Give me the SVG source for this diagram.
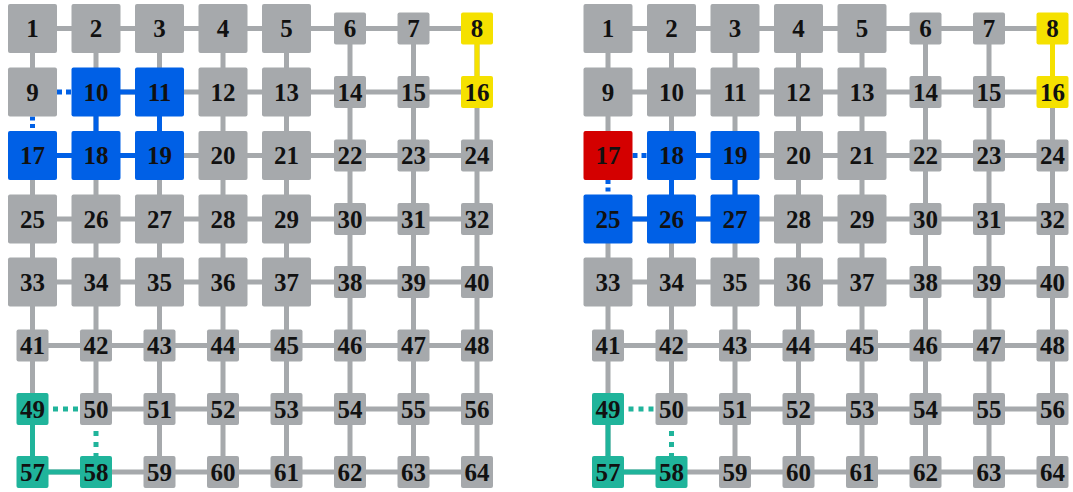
<svg xmlns="http://www.w3.org/2000/svg" width="1073" height="492" viewBox="0 0 1073 492">
<style>
.e{fill:none;stroke-width:5}
.eg{stroke:#a6a9ac}
.eb{stroke:#0060e6}
.ey{stroke:#f5e100}
.et{stroke:#20b49b}
.d1{stroke-dasharray:5 4}
.d2{stroke-dasharray:5 5}
text{font-family:"Liberation Serif","DejaVu Serif",serif;font-weight:bold;font-size:25px;text-anchor:middle;fill:#111}
.g{fill:#a6a9ac}.b{fill:#0060e6}.y{fill:#f5e100}.t{fill:#20b49b}.r{fill:#d40000}
</style>
<defs>
<rect id="B" x="-24.5" y="-24.5" width="49" height="49" rx="2"/>
<rect id="S" x="-16" y="-16" width="32" height="32" rx="2"/>
</defs>
<g id="connectors-left">
<path class="e eg" d="M32.5 28.5H477M96 92H477M32.5 155.5H477M32.5 219H477M32.5 282H477M32.5 345.5H477M96 409H477M32.5 472H477M32.5 28.5V92M32.5 155.5V472M96 28.5V409M159.5 28.5V472M223 28.5V472M286.5 28.5V472M350 28.5V472M413.5 28.5V472M477 28.5V472"/>
<path class="e eb" d="M96 92H159.5M96 92V155.5M159.5 92V155.5M32.5 155.5H159.5"/>
<path class="e ey" d="M477 28.5V92"/>
<path class="e et" d="M32.5 409V472H96"/>
<path class="e eb d1" d="M57 92H71.5"/>
<path class="e eb" style="stroke-dasharray:4 3.5" d="M32.5 116.5V131"/>
<path class="e et d2" d="M53 409H80"/>
<path class="e et" style="stroke-dasharray:5 6" d="M96 431V456"/>
</g>
<g id="connectors-right" transform="translate(575.5,0)">
<path class="e eg" d="M32.5 28.5H477M32.5 92H477M96 155.5H477M32.5 219H477M32.5 282H477M32.5 345.5H477M96 409H477M32.5 472H477M32.5 28.5V155.5M32.5 219V472M96 28.5V409M159.5 28.5V472M223 28.5V472M286.5 28.5V472M350 28.5V472M413.5 28.5V472M477 28.5V472"/>
<path class="e eb" d="M96 155.5H159.5M32.5 219H159.5M96 155.5V219M159.5 155.5V219"/>
<path class="e ey" d="M477 28.5V92"/>
<path class="e et" d="M32.5 409V472H96"/>
<path class="e eb d1" d="M57 155.5H71.5"/>
<path class="e eb" style="stroke-dasharray:4 3.5" d="M32.5 180V194.5"/>
<path class="e et d2" d="M53 409H80"/>
<path class="e et" style="stroke-dasharray:5 6" d="M96 431V456"/>
</g>
<g id="left">
<g id="a1" transform="translate(32.5,28.5)"><use href="#B" class="g"/><text y="8.5">1</text></g>
<g id="a2" transform="translate(96,28.5)"><use href="#B" class="g"/><text y="8.5">2</text></g>
<g id="a3" transform="translate(159.5,28.5)"><use href="#B" class="g"/><text y="8.5">3</text></g>
<g id="a4" transform="translate(223,28.5)"><use href="#B" class="g"/><text y="8.5">4</text></g>
<g id="a5" transform="translate(286.5,28.5)"><use href="#B" class="g"/><text y="8.5">5</text></g>
<g id="a6" transform="translate(350,28.5)"><use href="#S" class="g"/><text y="8.5">6</text></g>
<g id="a7" transform="translate(413.5,28.5)"><use href="#S" class="g"/><text y="8.5">7</text></g>
<g id="a8" transform="translate(477,28.5)"><use href="#S" class="y"/><text y="8.5">8</text></g>
<g id="a9" transform="translate(32.5,92)"><use href="#B" class="g"/><text y="8.5">9</text></g>
<g id="a10" transform="translate(96,92)"><use href="#B" class="b"/><text y="8.5">10</text></g>
<g id="a11" transform="translate(159.5,92)"><use href="#B" class="b"/><text y="8.5">11</text></g>
<g id="a12" transform="translate(223,92)"><use href="#B" class="g"/><text y="8.5">12</text></g>
<g id="a13" transform="translate(286.5,92)"><use href="#B" class="g"/><text y="8.5">13</text></g>
<g id="a14" transform="translate(350,92)"><use href="#S" class="g"/><text y="8.5">14</text></g>
<g id="a15" transform="translate(413.5,92)"><use href="#S" class="g"/><text y="8.5">15</text></g>
<g id="a16" transform="translate(477,92)"><use href="#S" class="y"/><text y="8.5">16</text></g>
<g id="a17" transform="translate(32.5,155.5)"><use href="#B" class="b"/><text y="8.5">17</text></g>
<g id="a18" transform="translate(96,155.5)"><use href="#B" class="b"/><text y="8.5">18</text></g>
<g id="a19" transform="translate(159.5,155.5)"><use href="#B" class="b"/><text y="8.5">19</text></g>
<g id="a20" transform="translate(223,155.5)"><use href="#B" class="g"/><text y="8.5">20</text></g>
<g id="a21" transform="translate(286.5,155.5)"><use href="#B" class="g"/><text y="8.5">21</text></g>
<g id="a22" transform="translate(350,155.5)"><use href="#S" class="g"/><text y="8.5">22</text></g>
<g id="a23" transform="translate(413.5,155.5)"><use href="#S" class="g"/><text y="8.5">23</text></g>
<g id="a24" transform="translate(477,155.5)"><use href="#S" class="g"/><text y="8.5">24</text></g>
<g id="a25" transform="translate(32.5,219)"><use href="#B" class="g"/><text y="8.5">25</text></g>
<g id="a26" transform="translate(96,219)"><use href="#B" class="g"/><text y="8.5">26</text></g>
<g id="a27" transform="translate(159.5,219)"><use href="#B" class="g"/><text y="8.5">27</text></g>
<g id="a28" transform="translate(223,219)"><use href="#B" class="g"/><text y="8.5">28</text></g>
<g id="a29" transform="translate(286.5,219)"><use href="#B" class="g"/><text y="8.5">29</text></g>
<g id="a30" transform="translate(350,219)"><use href="#S" class="g"/><text y="8.5">30</text></g>
<g id="a31" transform="translate(413.5,219)"><use href="#S" class="g"/><text y="8.5">31</text></g>
<g id="a32" transform="translate(477,219)"><use href="#S" class="g"/><text y="8.5">32</text></g>
<g id="a33" transform="translate(32.5,282)"><use href="#B" class="g"/><text y="8.5">33</text></g>
<g id="a34" transform="translate(96,282)"><use href="#B" class="g"/><text y="8.5">34</text></g>
<g id="a35" transform="translate(159.5,282)"><use href="#B" class="g"/><text y="8.5">35</text></g>
<g id="a36" transform="translate(223,282)"><use href="#B" class="g"/><text y="8.5">36</text></g>
<g id="a37" transform="translate(286.5,282)"><use href="#B" class="g"/><text y="8.5">37</text></g>
<g id="a38" transform="translate(350,282)"><use href="#S" class="g"/><text y="8.5">38</text></g>
<g id="a39" transform="translate(413.5,282)"><use href="#S" class="g"/><text y="8.5">39</text></g>
<g id="a40" transform="translate(477,282)"><use href="#S" class="g"/><text y="8.5">40</text></g>
<g id="a41" transform="translate(32.5,345.5)"><use href="#S" class="g"/><text y="8.5">41</text></g>
<g id="a42" transform="translate(96,345.5)"><use href="#S" class="g"/><text y="8.5">42</text></g>
<g id="a43" transform="translate(159.5,345.5)"><use href="#S" class="g"/><text y="8.5">43</text></g>
<g id="a44" transform="translate(223,345.5)"><use href="#S" class="g"/><text y="8.5">44</text></g>
<g id="a45" transform="translate(286.5,345.5)"><use href="#S" class="g"/><text y="8.5">45</text></g>
<g id="a46" transform="translate(350,345.5)"><use href="#S" class="g"/><text y="8.5">46</text></g>
<g id="a47" transform="translate(413.5,345.5)"><use href="#S" class="g"/><text y="8.5">47</text></g>
<g id="a48" transform="translate(477,345.5)"><use href="#S" class="g"/><text y="8.5">48</text></g>
<g id="a49" transform="translate(32.5,409)"><use href="#S" class="t"/><text y="8.5">49</text></g>
<g id="a50" transform="translate(96,409)"><use href="#S" class="g"/><text y="8.5">50</text></g>
<g id="a51" transform="translate(159.5,409)"><use href="#S" class="g"/><text y="8.5">51</text></g>
<g id="a52" transform="translate(223,409)"><use href="#S" class="g"/><text y="8.5">52</text></g>
<g id="a53" transform="translate(286.5,409)"><use href="#S" class="g"/><text y="8.5">53</text></g>
<g id="a54" transform="translate(350,409)"><use href="#S" class="g"/><text y="8.5">54</text></g>
<g id="a55" transform="translate(413.5,409)"><use href="#S" class="g"/><text y="8.5">55</text></g>
<g id="a56" transform="translate(477,409)"><use href="#S" class="g"/><text y="8.5">56</text></g>
<g id="a57" transform="translate(32.5,472)"><use href="#S" class="t"/><text y="8.5">57</text></g>
<g id="a58" transform="translate(96,472)"><use href="#S" class="t"/><text y="8.5">58</text></g>
<g id="a59" transform="translate(159.5,472)"><use href="#S" class="g"/><text y="8.5">59</text></g>
<g id="a60" transform="translate(223,472)"><use href="#S" class="g"/><text y="8.5">60</text></g>
<g id="a61" transform="translate(286.5,472)"><use href="#S" class="g"/><text y="8.5">61</text></g>
<g id="a62" transform="translate(350,472)"><use href="#S" class="g"/><text y="8.5">62</text></g>
<g id="a63" transform="translate(413.5,472)"><use href="#S" class="g"/><text y="8.5">63</text></g>
<g id="a64" transform="translate(477,472)"><use href="#S" class="g"/><text y="8.5">64</text></g>
</g>
<g id="right" transform="translate(575.5,0)">
<g id="b1" transform="translate(32.5,28.5)"><use href="#B" class="g"/><text y="8.5">1</text></g>
<g id="b2" transform="translate(96,28.5)"><use href="#B" class="g"/><text y="8.5">2</text></g>
<g id="b3" transform="translate(159.5,28.5)"><use href="#B" class="g"/><text y="8.5">3</text></g>
<g id="b4" transform="translate(223,28.5)"><use href="#B" class="g"/><text y="8.5">4</text></g>
<g id="b5" transform="translate(286.5,28.5)"><use href="#B" class="g"/><text y="8.5">5</text></g>
<g id="b6" transform="translate(350,28.5)"><use href="#S" class="g"/><text y="8.5">6</text></g>
<g id="b7" transform="translate(413.5,28.5)"><use href="#S" class="g"/><text y="8.5">7</text></g>
<g id="b8" transform="translate(477,28.5)"><use href="#S" class="y"/><text y="8.5">8</text></g>
<g id="b9" transform="translate(32.5,92)"><use href="#B" class="g"/><text y="8.5">9</text></g>
<g id="b10" transform="translate(96,92)"><use href="#B" class="g"/><text y="8.5">10</text></g>
<g id="b11" transform="translate(159.5,92)"><use href="#B" class="g"/><text y="8.5">11</text></g>
<g id="b12" transform="translate(223,92)"><use href="#B" class="g"/><text y="8.5">12</text></g>
<g id="b13" transform="translate(286.5,92)"><use href="#B" class="g"/><text y="8.5">13</text></g>
<g id="b14" transform="translate(350,92)"><use href="#S" class="g"/><text y="8.5">14</text></g>
<g id="b15" transform="translate(413.5,92)"><use href="#S" class="g"/><text y="8.5">15</text></g>
<g id="b16" transform="translate(477,92)"><use href="#S" class="y"/><text y="8.5">16</text></g>
<g id="b17" transform="translate(32.5,155.5)"><use href="#B" class="r"/><text y="8.5">17</text></g>
<g id="b18" transform="translate(96,155.5)"><use href="#B" class="b"/><text y="8.5">18</text></g>
<g id="b19" transform="translate(159.5,155.5)"><use href="#B" class="b"/><text y="8.5">19</text></g>
<g id="b20" transform="translate(223,155.5)"><use href="#B" class="g"/><text y="8.5">20</text></g>
<g id="b21" transform="translate(286.5,155.5)"><use href="#B" class="g"/><text y="8.5">21</text></g>
<g id="b22" transform="translate(350,155.5)"><use href="#S" class="g"/><text y="8.5">22</text></g>
<g id="b23" transform="translate(413.5,155.5)"><use href="#S" class="g"/><text y="8.5">23</text></g>
<g id="b24" transform="translate(477,155.5)"><use href="#S" class="g"/><text y="8.5">24</text></g>
<g id="b25" transform="translate(32.5,219)"><use href="#B" class="b"/><text y="8.5">25</text></g>
<g id="b26" transform="translate(96,219)"><use href="#B" class="b"/><text y="8.5">26</text></g>
<g id="b27" transform="translate(159.5,219)"><use href="#B" class="b"/><text y="8.5">27</text></g>
<g id="b28" transform="translate(223,219)"><use href="#B" class="g"/><text y="8.5">28</text></g>
<g id="b29" transform="translate(286.5,219)"><use href="#B" class="g"/><text y="8.5">29</text></g>
<g id="b30" transform="translate(350,219)"><use href="#S" class="g"/><text y="8.5">30</text></g>
<g id="b31" transform="translate(413.5,219)"><use href="#S" class="g"/><text y="8.5">31</text></g>
<g id="b32" transform="translate(477,219)"><use href="#S" class="g"/><text y="8.5">32</text></g>
<g id="b33" transform="translate(32.5,282)"><use href="#B" class="g"/><text y="8.5">33</text></g>
<g id="b34" transform="translate(96,282)"><use href="#B" class="g"/><text y="8.5">34</text></g>
<g id="b35" transform="translate(159.5,282)"><use href="#B" class="g"/><text y="8.5">35</text></g>
<g id="b36" transform="translate(223,282)"><use href="#B" class="g"/><text y="8.5">36</text></g>
<g id="b37" transform="translate(286.5,282)"><use href="#B" class="g"/><text y="8.5">37</text></g>
<g id="b38" transform="translate(350,282)"><use href="#S" class="g"/><text y="8.5">38</text></g>
<g id="b39" transform="translate(413.5,282)"><use href="#S" class="g"/><text y="8.5">39</text></g>
<g id="b40" transform="translate(477,282)"><use href="#S" class="g"/><text y="8.5">40</text></g>
<g id="b41" transform="translate(32.5,345.5)"><use href="#S" class="g"/><text y="8.5">41</text></g>
<g id="b42" transform="translate(96,345.5)"><use href="#S" class="g"/><text y="8.5">42</text></g>
<g id="b43" transform="translate(159.5,345.5)"><use href="#S" class="g"/><text y="8.5">43</text></g>
<g id="b44" transform="translate(223,345.5)"><use href="#S" class="g"/><text y="8.5">44</text></g>
<g id="b45" transform="translate(286.5,345.5)"><use href="#S" class="g"/><text y="8.5">45</text></g>
<g id="b46" transform="translate(350,345.5)"><use href="#S" class="g"/><text y="8.5">46</text></g>
<g id="b47" transform="translate(413.5,345.5)"><use href="#S" class="g"/><text y="8.5">47</text></g>
<g id="b48" transform="translate(477,345.5)"><use href="#S" class="g"/><text y="8.5">48</text></g>
<g id="b49" transform="translate(32.5,409)"><use href="#S" class="t"/><text y="8.5">49</text></g>
<g id="b50" transform="translate(96,409)"><use href="#S" class="g"/><text y="8.5">50</text></g>
<g id="b51" transform="translate(159.5,409)"><use href="#S" class="g"/><text y="8.5">51</text></g>
<g id="b52" transform="translate(223,409)"><use href="#S" class="g"/><text y="8.5">52</text></g>
<g id="b53" transform="translate(286.5,409)"><use href="#S" class="g"/><text y="8.5">53</text></g>
<g id="b54" transform="translate(350,409)"><use href="#S" class="g"/><text y="8.5">54</text></g>
<g id="b55" transform="translate(413.5,409)"><use href="#S" class="g"/><text y="8.5">55</text></g>
<g id="b56" transform="translate(477,409)"><use href="#S" class="g"/><text y="8.5">56</text></g>
<g id="b57" transform="translate(32.5,472)"><use href="#S" class="t"/><text y="8.5">57</text></g>
<g id="b58" transform="translate(96,472)"><use href="#S" class="t"/><text y="8.5">58</text></g>
<g id="b59" transform="translate(159.5,472)"><use href="#S" class="g"/><text y="8.5">59</text></g>
<g id="b60" transform="translate(223,472)"><use href="#S" class="g"/><text y="8.5">60</text></g>
<g id="b61" transform="translate(286.5,472)"><use href="#S" class="g"/><text y="8.5">61</text></g>
<g id="b62" transform="translate(350,472)"><use href="#S" class="g"/><text y="8.5">62</text></g>
<g id="b63" transform="translate(413.5,472)"><use href="#S" class="g"/><text y="8.5">63</text></g>
<g id="b64" transform="translate(477,472)"><use href="#S" class="g"/><text y="8.5">64</text></g>
</g>
</svg>
